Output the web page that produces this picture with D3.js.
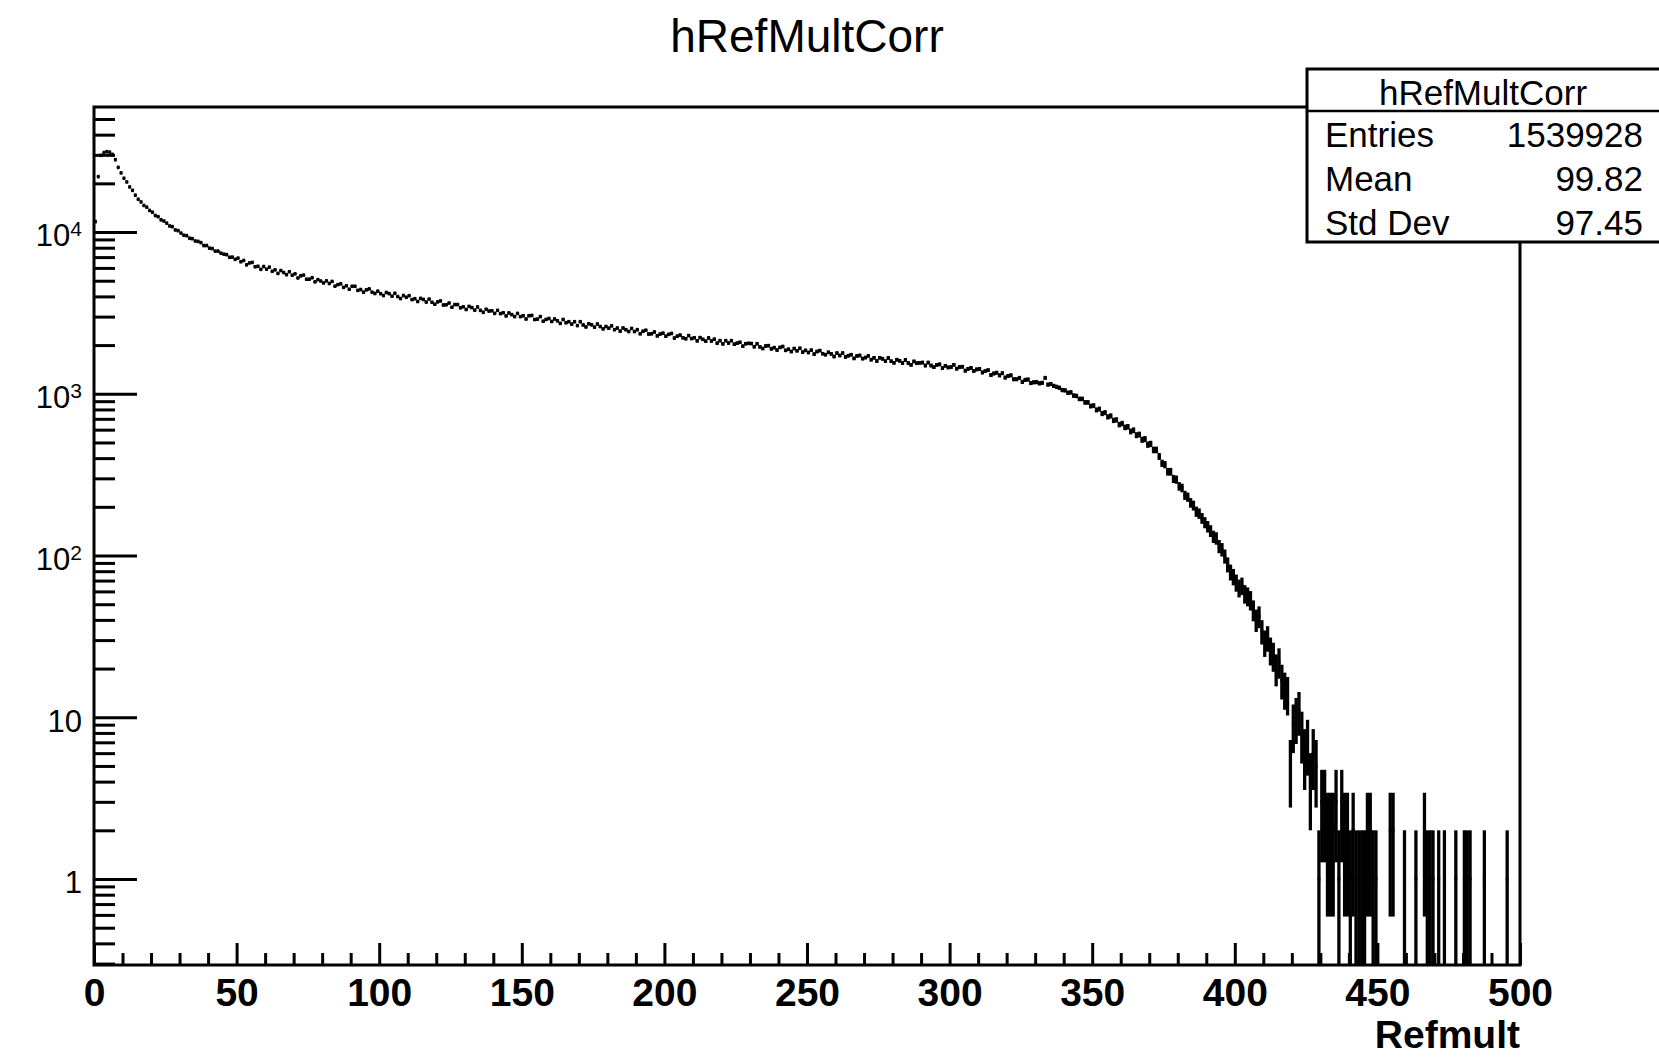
<!DOCTYPE html>
<html><head><meta charset="utf-8">
<script src="https://cdn.jsdelivr.net/npm/d3@7"></script>
<style>
body{margin:0;background:#fff}
text{font-family:"Liberation Sans",Arial,Helvetica,sans-serif;fill:#000}
</style>
</head><body>
<svg id="c" width="1659" height="1058"></svg>
<script>
// ---- data ----
const histTitle = "hRefMultCorr";
const xTitle = "Refmult";
const xRange = [0, 500];          // 500 bins of width 1
const counts = [
11600,22000,29800,31000,31400,31200,30200,28000,25100,23200,
21500,20400,19000,18100,16900,15950,15350,14600,14250,13600,
13250,12650,12450,11900,11700,11350,10900,10800,10300,10200,
9850,9550,9500,9150,9100,8800,8750,8600,8250,8250,
7950,7900,7620,7620,7400,7300,7250,6980,7000,6780,
6900,6550,6670,6270,6440,6490,6100,6140,5880,6120,
5890,6070,5720,5840,5550,5780,5620,5450,5680,5410,
5520,5200,5360,5420,5110,5110,5220,4920,5080,4980,
4840,4990,4810,4950,4630,4730,4780,4550,4650,4430,
4620,4620,4360,4410,4250,4390,4450,4250,4170,4310,
4160,4050,4230,4160,4010,4180,3990,3880,4050,3950,
4040,3820,3870,3720,3890,3830,3690,3850,3680,3580,
3700,3750,3540,3550,3640,3430,3560,3560,3400,3450,
3320,3470,3410,3290,3440,3280,3190,3330,3245,3260,
3140,3280,3130,3170,3030,3160,3085,3000,3140,3000,
3035,2900,3035,3050,2880,2895,3000,2810,2880,2920,
2800,2900,2825,2725,2880,2750,2790,2695,2790,2640,
2790,2665,2590,2710,2670,2580,2700,2605,2520,2605,
2545,2630,2490,2550,2440,2550,2490,2425,2535,2425,
2490,2350,2435,2470,2340,2350,2410,2280,2340,2370,
2270,2330,2360,2210,2270,2305,2220,2190,2290,2195,
2220,2125,2225,2170,2115,2215,2120,2175,2055,2130,
2035,2130,2060,2130,2025,2055,2080,1970,2040,2050,
2045,1955,2040,1950,1905,1975,1985,1895,1930,1865,
1935,1960,1855,1885,1825,1905,1845,1910,1810,1855,
1800,1860,1760,1825,1850,1770,1745,1805,1765,1700,
1785,1725,1785,1690,1720,1745,1655,1715,1725,1650,
1675,1715,1625,1670,1595,1670,1645,1590,1665,1590,
1555,1625,1600,1550,1620,1550,1510,1585,1545,1555,
1560,1495,1560,1495,1460,1510,1520,1440,1490,1455,
1460,1510,1430,1465,1470,1390,1427,1445,1385,1415,
1425,1355,1385,1400,1305,1335,1350,1300,1340,1260,
1290,1300,1230,1230,1255,1185,1220,1225,1165,1178,
1180,1160,1170,1255,1140,1150,1120,1105,1090,1055,
1050,1015,1020,975,970,930,930,885,885,840,
845,795,805,755,765,720,730,685,690,645,
655,620,625,585,595,555,560,520,525,485,
490,450,450,410,372,365,330,330,298,295,
268,262,236,230,212,204,187,182,170,160,
151,142,131,128,114,109,99,88,79,74,
68,63,65,58,56,53,46,40,42,34,
29,31,26,24,20,22,17,15,14,5,
9,10,11,8,6,7,4,6,5,1,
3,3,2,2,2,3,1,3,2,2,
1,2,1,1,1,1,2,2,1,1,
0,0,0,0,2,2,0,0,0,1,
0,0,0,1,0,0,2,1,1,1,
0,1,0,1,0,0,0,1,0,0,
1,1,1,0,0,0,0,1,0,0,
0,0,0,0,0,1,0,0,0,0
];
const xMajorTicks = [0,50,100,150,200,250,300,350,400,450,500];
const yMajorTicks = [1,10,100,1000,10000];
const yRange = [0.294, 59300];
const statsLabels = ["Entries","Mean","Std Dev"];
const statsValues = ["1539928","99.82","97.45"];

// ---- layout ----
const svg = d3.select("#c");
const L = 94, R = 1520, T = 107, B = 965;
const x = d3.scaleLinear().domain(xRange).range([L, R]);
const y = d3.scaleLog().domain(yRange).range([B, T]);

svg.append("rect").attr("width",1659).attr("height",1058).attr("fill","#fff");

// title
svg.append("text").attr("x",807).attr("y",52).attr("text-anchor","middle")
  .attr("font-size",46).text(histTitle);

// clip
svg.append("clipPath").attr("id","fr").append("rect")
  .attr("x",L).attr("y",T).attr("width",R-L).attr("height",B-T);

const nb = counts.length;
const bw = (xRange[1]-xRange[0])/nb;
const bins = counts.map((n,i)=>({lo:xRange[0]+i*bw, hi:xRange[0]+(i+1)*bw, n:n})).filter(d=>d.n>0);

const g = svg.append("g").attr("clip-path","url(#fr)")
  .attr("stroke","#000").attr("fill","none");
g.selectAll("line.h").data(bins).join("line").attr("class","h")
  .attr("stroke-width",3.6)
  .attr("x1",d=>x(d.lo)).attr("x2",d=>x(d.hi))
  .attr("y1",d=>y(d.n)).attr("y2",d=>y(d.n));
g.selectAll("line.v").data(bins).join("line").attr("class","v")
  .attr("stroke-width",3.3)
  .attr("x1",d=>x((d.lo+d.hi)/2)).attr("x2",d=>x((d.lo+d.hi)/2))
  .attr("y1",d=>y(d.n+Math.sqrt(d.n)))
  .attr("y2",d=>{const lo=d.n-Math.sqrt(d.n); return lo>1e-3? y(lo): B+20;});

// x axis
const xMinor = d3.range(xRange[0], xRange[1]+1, 10).filter(v=>v%50!==0);
const xa = svg.append("g").attr("transform",`translate(0,${B})`)
  .call(d3.axisBottom(x).tickValues(xMajorTicks).tickSize(-22).tickPadding(13));
svg.append("g").attr("transform",`translate(0,${B})`)
  .call(d3.axisBottom(x).tickValues(xMinor).tickSize(-12).tickFormat(""))
  .call(s=>s.select(".domain").remove())
  .selectAll("line").attr("stroke","#000").attr("stroke-width",3);
xa.select(".domain").remove();
xa.selectAll("line").attr("stroke","#000").attr("stroke-width",3);
xa.selectAll("text").attr("font-size",39).attr("font-weight","bold")
  .attr("font-family","'Liberation Sans',Arial,sans-serif").attr("fill","#000");

svg.append("text").attr("x",R).attr("y",1048).attr("text-anchor","end")
  .attr("font-size",39).attr("font-weight","bold").text(xTitle);

// y axis
const yMinor = [];
for (let e=-1; e<=4; e++) for (let k=2; k<=9; k++) {
  const v = k*Math.pow(10,e);
  if (v>=yRange[0] && v<=yRange[1]) yMinor.push(v);
}
const ya = svg.append("g").attr("transform",`translate(${L},0)`)
  .call(d3.axisLeft(y).tickValues(yMajorTicks).tickSize(-43).tickPadding(12).tickFormat(""));
ya.select(".domain").remove();
ya.selectAll("line").attr("stroke","#000").attr("stroke-width",3);
ya.selectAll(".tick text").each(function(v){
  const t = d3.select(this).attr("font-size",31).attr("dy","0.45em")
    .attr("font-family","'Liberation Sans',Arial,sans-serif").attr("fill","#000");
  const e = Math.round(Math.log10(v));
  if (e<=1) { t.text(String(v)); }
  else {
    t.append("tspan").text("10");
    t.append("tspan").attr("font-size",21).attr("dy",-10).text(String(e));
  }
});
svg.append("g").attr("transform",`translate(${L},0)`)
  .call(d3.axisLeft(y).tickValues(yMinor).tickSize(-21).tickFormat(""))
  .call(s=>s.select(".domain").remove())
  .selectAll("line").attr("stroke","#000").attr("stroke-width",3);

// frame
svg.append("rect").attr("x",L).attr("y",T).attr("width",R-L).attr("height",B-T)
  .attr("fill","none").attr("stroke","#000").attr("stroke-width",3);

// stats box
const sb = svg.append("g");
const SX = 1307, SY = 69, SB = 242, SR = 1668;
sb.append("rect").attr("x",SX).attr("y",SY).attr("width",SR-SX).attr("height",SB-SY)
  .attr("fill","#fff").attr("stroke","#000").attr("stroke-width",3);
sb.append("line").attr("x1",SX).attr("x2",SR).attr("y1",111).attr("y2",111)
  .attr("stroke","#000").attr("stroke-width",2.5);
sb.append("text").attr("x",1483).attr("y",105).attr("text-anchor","middle")
  .attr("font-size",35).text(histTitle);
statsLabels.forEach((lab,i)=>{
  const by = 147 + i*44;
  sb.append("text").attr("x",1325).attr("y",by).attr("font-size",35).text(lab);
  sb.append("text").attr("x",1643).attr("y",by).attr("text-anchor","end")
    .attr("font-size",35).text(statsValues[i]);
});
</script>
</body></html>
